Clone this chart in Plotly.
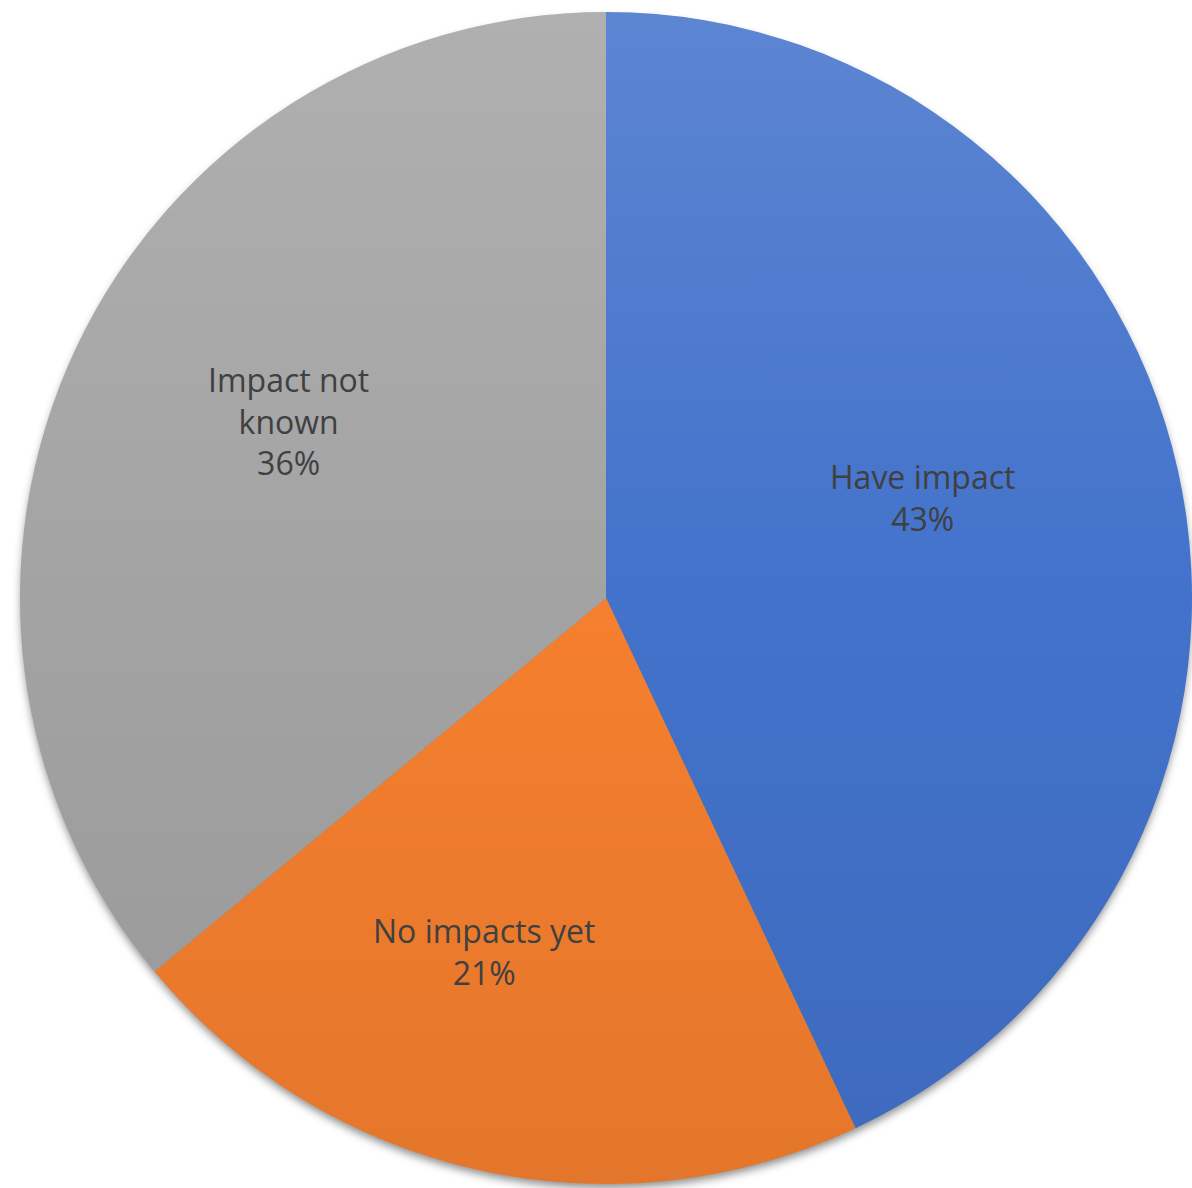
import base64
import plotly.graph_objects as go

labels = ["Have impact", "No impacts yet", "Impact not known"]
display_labels = ["Have impact", "No impacts yet", "Impact not<br>known"]
values = [43, 21, 36]
colors = ["#4272CB", "#F57F2E", "#A3A3A3"]

W, H = 1192, 1188
cx, cy, r = 606, 598, 586

# label anchor positions (pixels), styling only
label_pos = [(922, 497), (484, 951), (288, 421)]

domain = dict(x=[(cx - r) / W, (cx + r) / W], y=[1 - (cy + r) / H, 1 - (cy - r) / H])

fig = go.Figure(go.Pie(
    labels=labels,
    values=values,
    sort=False,
    direction="clockwise",
    rotation=0,
    marker=dict(colors=colors, line=dict(color="rgba(0,0,0,0)", width=0)),
    textinfo="none",
    showlegend=False,
    hoverinfo="label+percent",
    domain=domain,
))

total = sum(values)
for lab, v, (px, py) in zip(display_labels, values, label_pos):
    fig.add_annotation(
        x=px / W, y=1 - py / H, xref="paper", yref="paper",
        xanchor="center", yanchor="middle",
        text=f"{lab}<br>{round(100 * v / total)}%",
        showarrow=False, align="center",
        font=dict(family="Open Sans, Noto Sans, sans-serif", size=32, color="#404040"),
    )

# soft gradient overlay & shadow (decoration)
S = 2 * r
grad_svg = f'''<svg xmlns="http://www.w3.org/2000/svg" width="{S}" height="{S}" viewBox="0 0 {S} {S}">
<defs><linearGradient id="g" x1="0" y1="0" x2="0" y2="1">
<stop offset="0" stop-color="#ffffff" stop-opacity="0.14"/>
<stop offset="0.5" stop-color="#ffffff" stop-opacity="0"/>
<stop offset="0.5" stop-color="#000000" stop-opacity="0"/>
<stop offset="1" stop-color="#000000" stop-opacity="0.07"/>
</linearGradient></defs>
<circle cx="{r}" cy="{r}" r="{r}" fill="url(#g)"/></svg>'''
pad = 20
shadow_svg = f'''<svg xmlns="http://www.w3.org/2000/svg" width="{S + 2 * pad}" height="{S + 2 * pad}" viewBox="0 0 {S + 2 * pad} {S + 2 * pad}">
<defs><filter id="f" x="-10%" y="-10%" width="120%" height="120%"><feGaussianBlur stdDeviation="4"/></filter></defs>
<circle cx="{r + pad}" cy="{r + pad + 5}" r="{r - 1}" fill="#000" fill-opacity="0.45" filter="url(#f)"/></svg>'''


def uri(s):
    return "data:image/svg+xml;base64," + base64.b64encode(s.encode()).decode()


fig.add_layout_image(
    source=uri(shadow_svg), xref="paper", yref="paper",
    x=(cx - r - pad) / W, y=1 - (cy - r - pad) / H,
    sizex=(S + 2 * pad) / W, sizey=(S + 2 * pad) / H,
    xanchor="left", yanchor="top", sizing="stretch", layer="below",
)
fig.add_layout_image(
    source=uri(grad_svg), xref="paper", yref="paper",
    x=(cx - r) / W, y=1 - (cy - r) / H,
    sizex=S / W, sizey=S / H,
    xanchor="left", yanchor="top", sizing="stretch", layer="above",
)

fig.update_layout(
    width=W, height=H,
    margin=dict(l=0, r=0, t=0, b=0),
    paper_bgcolor="white",
    plot_bgcolor="rgba(0,0,0,0)",
)

fig.write_html("out.html")
